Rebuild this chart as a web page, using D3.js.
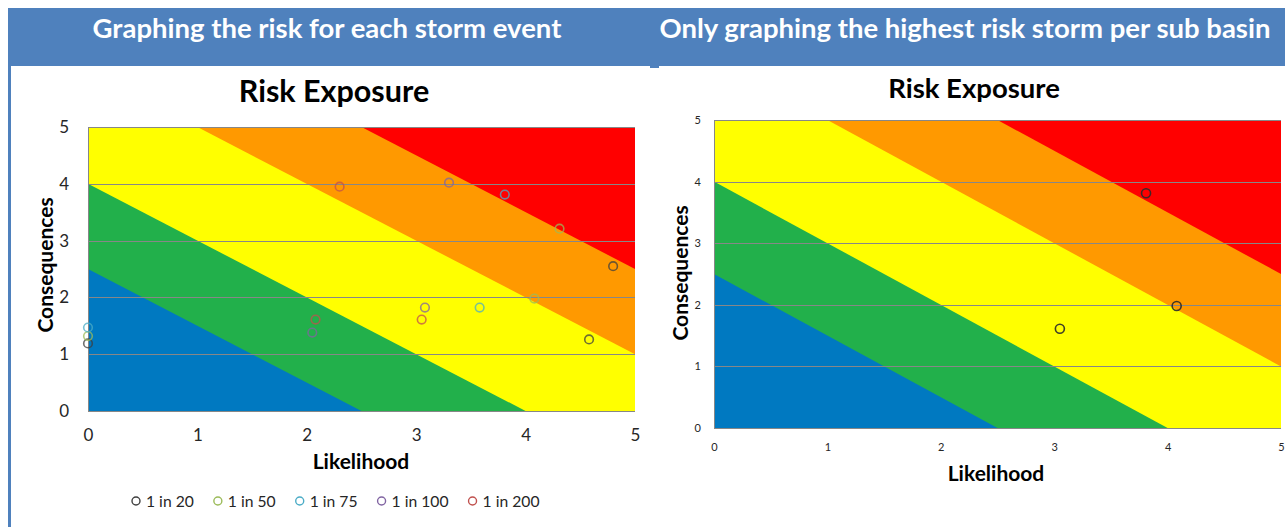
<!DOCTYPE html>
<html>
<head>
<meta charset="utf-8">
<script src="https://cdn.jsdelivr.net/npm/d3@7"></script>
<style>
  body { margin: 0; background: #ffffff; }
  svg { display: block; font-family: Lato, "Open Sans", sans-serif; }
</style>
</head>
<body>
<svg id="chart" width="1285" height="527"></svg>
<script>
// ---------- data ----------
const headings = ["Graphing the risk for each storm event", "Only graphing the highest risk storm per sub basin"];
const chartTitle = "Risk Exposure";
const xAxisTitle = "Likelihood";
const yAxisTitle = "Consequences";
const axisTicks = [0, 1, 2, 3, 4, 5];

// risk zones are bounded by lines of constant (likelihood + consequence)
const zoneLimits = [2.5, 4, 6, 7.5];
const zoneColors = ["#0079C1", "#22B04B", "#FFFF00", "#FF9900", "#FF0000"];

const stormEvents = ["1 in 20", "1 in 50", "1 in 75", "1 in 100", "1 in 200"];
const stormColors = ["#3F3F3F", "#9BBB59", "#4BACC6", "#8064A2", "#C0504D"];

// one value per sub basin, for each storm event
const likelihood20  = [4.80, 4.58, 0.00];
const consequence20 = [2.55, 1.26, 1.19];
const likelihood50  = [4.31, 4.08, 0.00];
const consequence50 = [3.21, 1.98, 1.32];
const likelihood75  = [3.81, 3.58, 0.00];
const consequence75 = [3.81, 1.82, 1.47];
const likelihood100  = [3.30, 3.08, 2.05];
const consequence100 = [4.02, 1.82, 1.38];
const likelihood200  = [2.30, 2.08, 3.05];
const consequence200 = [3.95, 1.61, 1.61];

// highest risk storm of each sub basin
const peakLikelihood  = [3.81, 4.08, 3.05];
const peakConsequence = [3.81, 1.98, 1.61];

const stormSeries = [
  { name: stormEvents[0], color: stormColors[0], x: likelihood20,  y: consequence20 },
  { name: stormEvents[1], color: stormColors[1], x: likelihood50,  y: consequence50 },
  { name: stormEvents[2], color: stormColors[2], x: likelihood75,  y: consequence75 },
  { name: stormEvents[3], color: stormColors[3], x: likelihood100, y: consequence100 },
  { name: stormEvents[4], color: stormColors[4], x: likelihood200, y: consequence200 }
];
const peakSeries = [
  { name: "Highest risk", color: "#2B2B2B", x: peakLikelihood, y: peakConsequence }
];

// ---------- page frame ----------
const svg = d3.select("#chart");
const headerBlue = "#4F81BD";

svg.append("rect").attr("x", 8).attr("y", 8).attr("width", 1277).attr("height", 58).attr("fill", headerBlue);
svg.append("rect").attr("x", 8).attr("y", 8).attr("width", 3).attr("height", 519).attr("fill", headerBlue);
svg.append("rect").attr("x", 650).attr("y", 64).attr("width", 9).attr("height", 4).attr("fill", headerBlue);

const headingX = [327, 965];
headings.forEach((h, i) => {
  svg.append("text")
    .attr("x", headingX[i]).attr("y", 38)
    .attr("text-anchor", "middle")
    .attr("fill", "#ffffff")
    .attr("font-weight", 700)
    .attr("font-size", 27.5)
    .text(h);
});

// ---------- risk chart ----------
function riskChart(opt) {
  const g = svg.append("g");
  const x = d3.scaleLinear().domain([0, 5]).range([opt.left, opt.right]);
  const y = d3.scaleLinear().domain([0, 5]).range([opt.bottom, opt.top]);

  const clipId = "clip-" + opt.id;
  g.append("clipPath").attr("id", clipId)
    .append("rect")
    .attr("x", x(0)).attr("y", y(5))
    .attr("width", x(5) - x(0)).attr("height", y(0) - y(5));

  const zones = g.append("g").attr("clip-path", `url(#${clipId})`);
  // highest zone covers the whole plot, lower zones are painted over it
  zones.append("rect")
    .attr("x", x(0)).attr("y", y(5))
    .attr("width", x(5) - x(0)).attr("height", y(0) - y(5))
    .attr("fill", zoneColors[zoneColors.length - 1]);
  const tri = d3.line().x(d => x(d[0])).y(d => y(d[1]));
  zoneLimits.slice().reverse().forEach((lim, k) => {
    const colour = zoneColors[zoneLimits.length - 1 - k];
    zones.append("path")
      .attr("d", tri([[0, 0], [0, lim], [lim, 0]]) + "Z")
      .attr("fill", colour);
  });

  // horizontal gridlines
  g.append("g").selectAll("line").data(axisTicks.filter(t => t > 0)).join("line")
    .attr("x1", x(0)).attr("x2", x(5))
    .attr("y1", d => Math.round(y(d)) + 0.5).attr("y2", d => Math.round(y(d)) + 0.5)
    .attr("stroke", "#878787").attr("stroke-width", 1);

  // axis lines
  g.append("line").attr("x1", Math.round(x(0)) + 0.5).attr("x2", Math.round(x(0)) + 0.5)
    .attr("y1", y(5)).attr("y2", y(0)).attr("stroke", "#878787");
  g.append("line").attr("x1", x(0)).attr("x2", x(5))
    .attr("y1", Math.round(y(0)) + 0.5).attr("y2", Math.round(y(0)) + 0.5).attr("stroke", "#878787");

  // tick labels
  const yAxis = d3.axisLeft(y).tickValues(axisTicks).tickSize(0).tickPadding(opt.yPad).tickFormat(d3.format("d"));
  const yg = g.append("g").attr("transform", `translate(${x(0)},0)`).call(yAxis);
  yg.select(".domain").remove();
  yg.selectAll("text").attr("font-size", opt.tickSize).attr("fill", "#262626").attr("font-family", "Lato, sans-serif");

  const xAxis = d3.axisBottom(x).tickValues(axisTicks).tickSize(0).tickPadding(opt.xPad).tickFormat(d3.format("d"));
  const xg = g.append("g").attr("transform", `translate(0,${y(0)})`).call(xAxis);
  xg.select(".domain").remove();
  xg.selectAll("text").attr("font-size", opt.tickSize).attr("fill", "#262626").attr("font-family", "Lato, sans-serif");

  // titles
  g.append("text").attr("x", opt.titleX).attr("y", opt.titleY)
    .attr("text-anchor", "middle").attr("font-weight", 700).attr("font-size", opt.titleSize)
    .attr("fill", "#000").text(chartTitle);
  g.append("text").attr("x", opt.xTitleX).attr("y", opt.xTitleY)
    .attr("text-anchor", "middle").attr("font-weight", 700).attr("font-size", 21)
    .attr("fill", "#000").text(xAxisTitle);
  g.append("text")
    .attr("transform", `translate(${opt.yTitleX},${opt.yTitleY}) rotate(-90)`)
    .attr("text-anchor", "middle").attr("font-weight", 700).attr("font-size", 21)
    .attr("fill", "#000").text(yAxisTitle);

  // markers
  opt.series.forEach(s => {
    g.append("g").selectAll("circle").data(s.x.map((v, i) => [v, s.y[i]])).join("circle")
      .attr("cx", d => x(d[0])).attr("cy", d => y(d[1]))
      .attr("r", opt.markerR)
      .attr("fill", "none")
      .attr("stroke", s.color)
      .attr("stroke-opacity", opt.markerOpacity)
      .attr("stroke-width", 1.6);
  });
  return g;
}

riskChart({
  id: "events", left: 88, right: 635, top: 127, bottom: 411,
  yPad: 19, xPad: 18, tickSize: 17,
  titleX: 334, titleY: 102, titleSize: 30.5,
  xTitleX: 361, xTitleY: 469, yTitleX: 53, yTitleY: 265,
  series: stormSeries, markerR: 4.3, markerOpacity: 0.75
});

riskChart({
  id: "peaks", left: 714, right: 1281, top: 120, bottom: 428,
  yPad: 13, xPad: 15, tickSize: 11,
  titleX: 974, titleY: 98, titleSize: 27.5,
  xTitleX: 996, xTitleY: 481, yTitleX: 688, yTitleY: 273,
  series: peakSeries, markerR: 4.5, markerOpacity: 0.9
});

// ---------- legend ----------
const legend = svg.append("g");
let lx = 136;
stormSeries.forEach(s => {
  legend.append("circle").attr("cx", lx).attr("cy", 501).attr("r", 4)
    .attr("fill", "none").attr("stroke", s.color).attr("stroke-width", 1.4);
  const t = legend.append("text").attr("x", lx + 10).attr("y", 507)
    .attr("font-size", 15.7).attr("fill", "#262626").text(s.name);
  lx += 10 + t.node().getComputedTextLength() + 24;
});
</script>
</body>
</html>
